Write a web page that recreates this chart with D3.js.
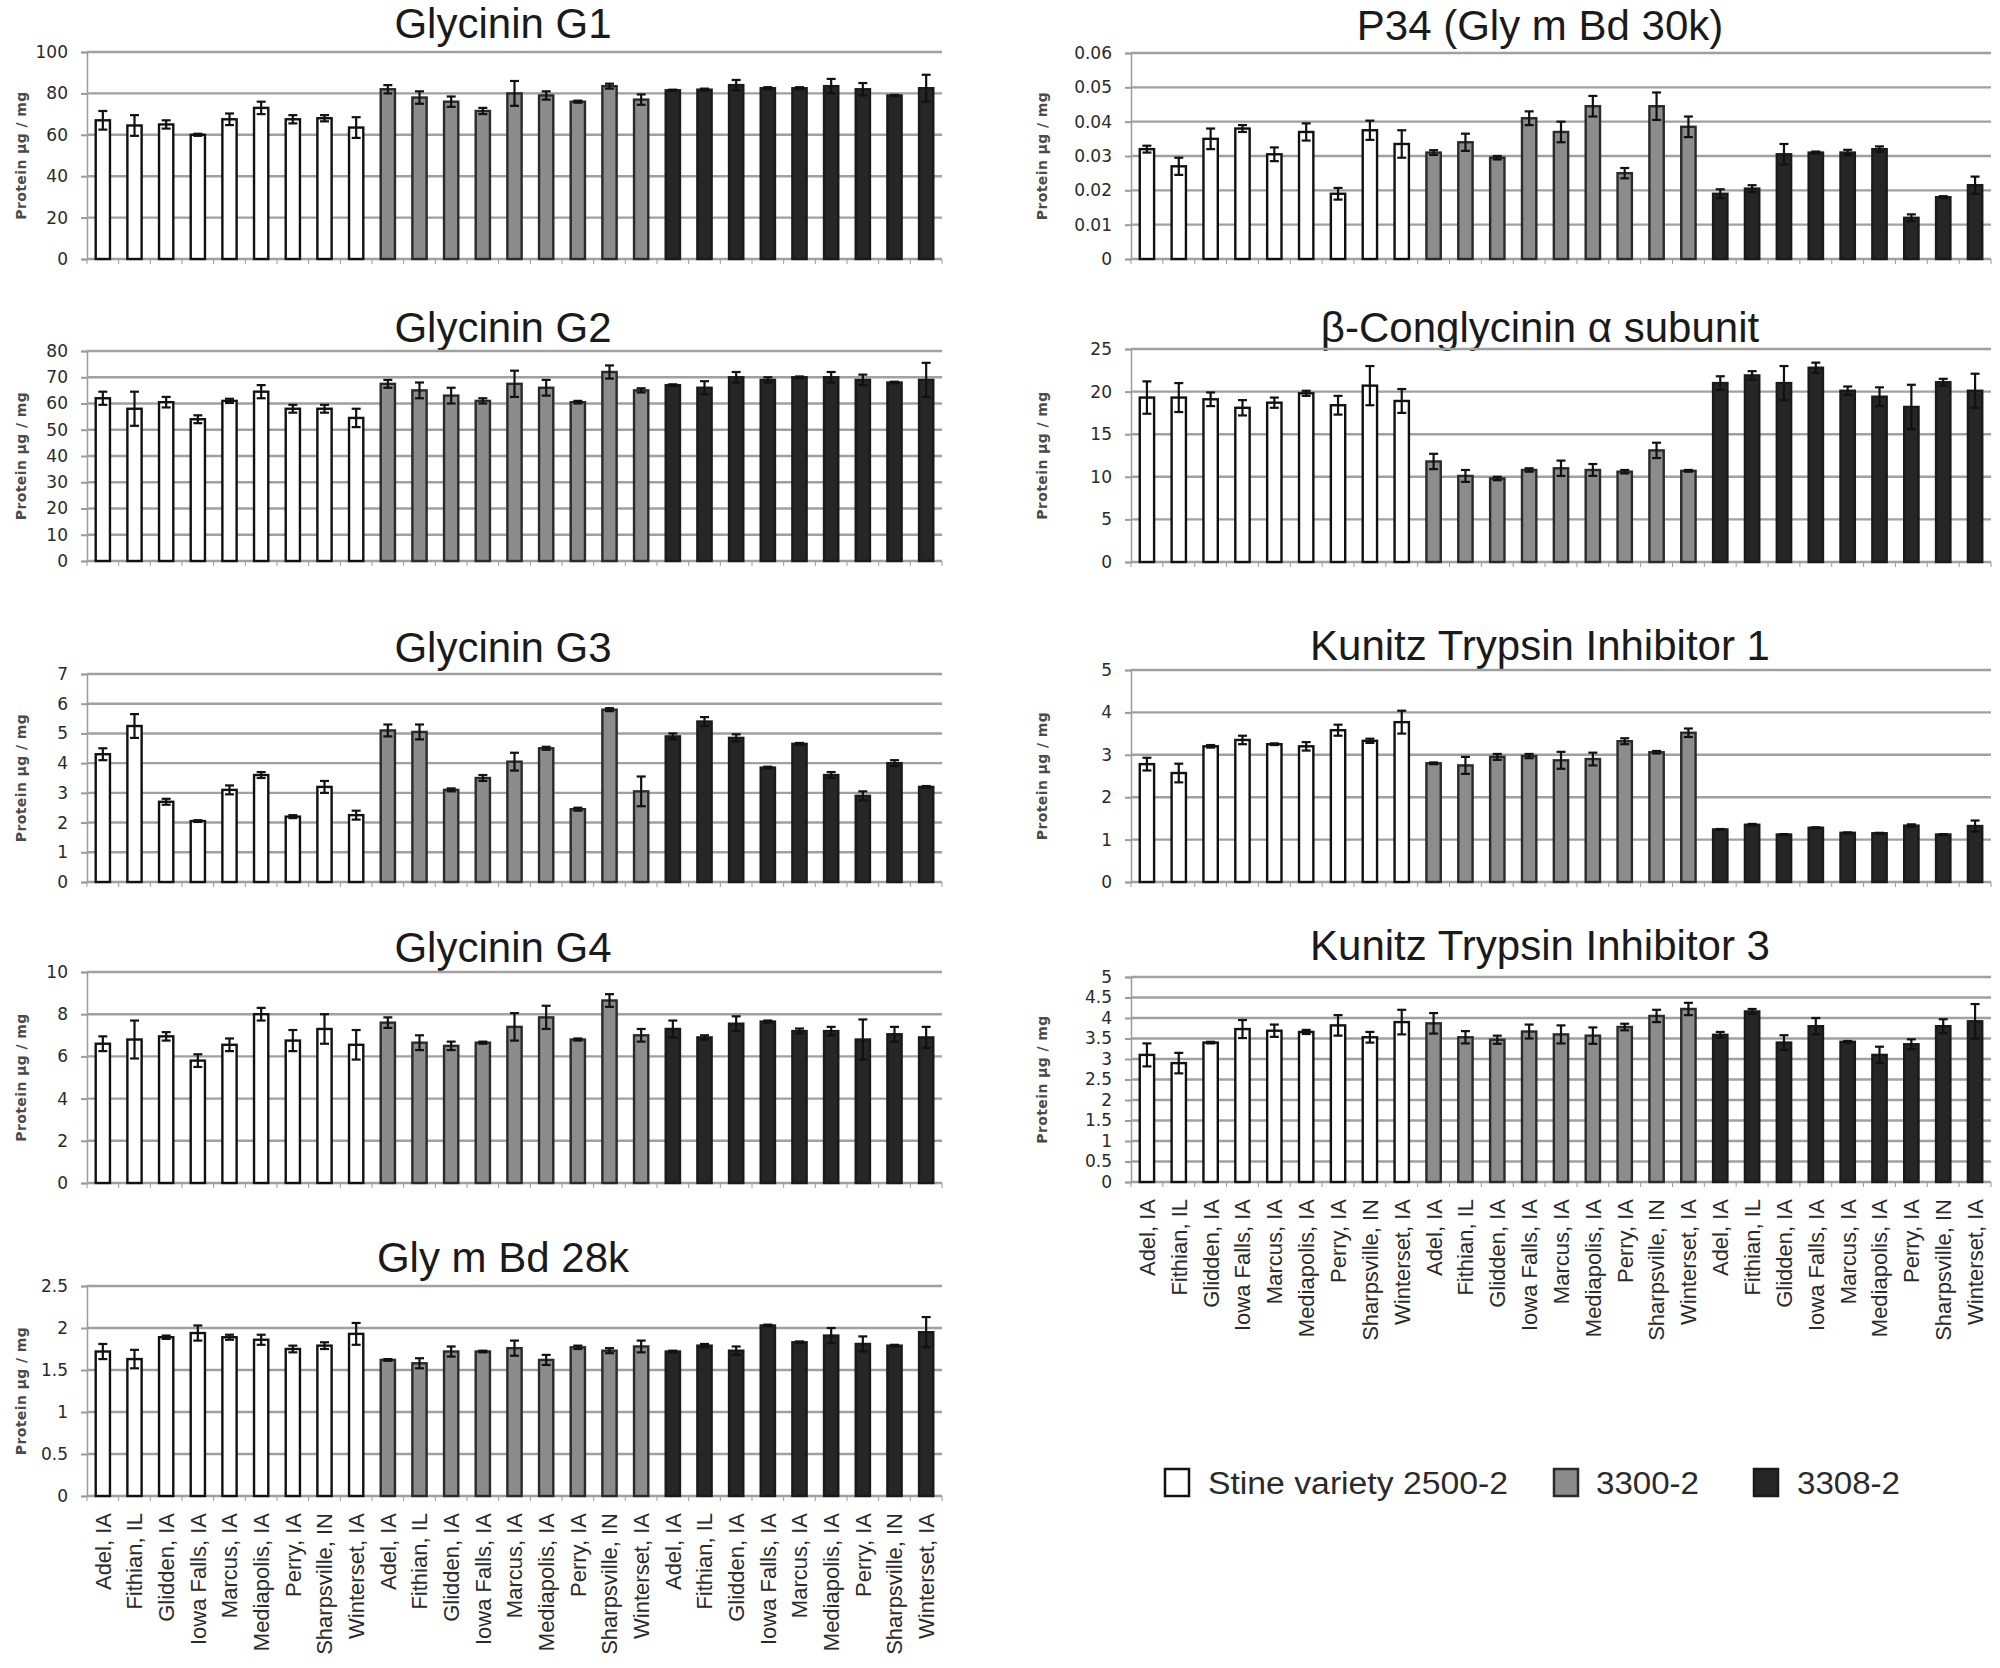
<!DOCTYPE html>
<html>
<head>
<meta charset="utf-8">
<script src="https://cdn.jsdelivr.net/npm/d3@7"></script>
<style>
  html, body { margin: 0; padding: 0; background: #fff; }
  svg { display: block; }
</style>
</head>
<body>
<svg id="chart" width="2000" height="1668"></svg>
<script>
// ---------------- DATA ----------------
const locations = ["Adel, IA", "Fithian, IL", "Glidden, IA", "Iowa Falls, IA", "Marcus, IA",
  "Mediapolis, IA", "Perry, IA", "Sharpsville, IN", "Winterset, IA"];
const varieties = ["Stine variety 2500-2", "3300-2", "3308-2"];

// 27 bars: 9 locations for each variety, in the order above
const g1Values = [67, 64.5, 65, 60, 67.5, 73, 67.5, 68, 63.5,  82, 78, 76, 71.5, 80, 79, 76, 83.5, 77,  81.5, 81.8, 84, 82.5, 82.5, 83.5, 82, 79, 82.5];
const g1Errors = [4.5, 5, 2, 0.5, 2.8, 3, 2, 1.5, 5,  2, 3, 2.5, 1.5, 6, 2, 0.5, 1.2, 2.5,  0.3, 0.5, 2.5, 0.5, 0.5, 3.5, 3, 0.3, 6.5];

const g2Values = [62, 58, 60.5, 54, 61, 64.5, 58, 58, 54.5,  67.5, 65, 63, 61, 67.5, 66, 60.5, 72, 65,  67, 66, 70, 69, 70, 70, 69, 68, 69];
const g2Errors = [2.5, 6.5, 2, 1.5, 0.8, 2.5, 1.5, 1.5, 3.5,  1.5, 3, 3, 1, 5, 3, 0.5, 2.5, 0.8,  0.3, 2.5, 2, 1, 0.3, 2, 2, 0.3, 6.5];

const g3Values = [4.3, 5.25, 2.7, 2.05, 3.1, 3.6, 2.2, 3.2, 2.25,  5.1, 5.05, 3.1, 3.5, 4.05, 4.5, 2.45, 5.8, 3.05,  4.9, 5.4, 4.85, 3.85, 4.65, 3.6, 2.9, 4.0, 3.2];
const g3Errors = [0.2, 0.4, 0.1, 0.03, 0.15, 0.1, 0.05, 0.2, 0.15,  0.2, 0.25, 0.05, 0.1, 0.3, 0.05, 0.05, 0.05, 0.5,  0.1, 0.15, 0.12, 0.03, 0.03, 0.1, 0.15, 0.1, 0.03];

const g4Values = [6.6, 6.8, 6.95, 5.8, 6.55, 8.0, 6.75, 7.3, 6.55,  7.6, 6.65, 6.5, 6.65, 7.4, 7.85, 6.8, 8.65, 7.0,  7.3, 6.9, 7.55, 7.65, 7.2, 7.2, 6.8, 7.05, 6.9];
const g4Errors = [0.35, 0.9, 0.2, 0.3, 0.3, 0.3, 0.5, 0.7, 0.7,  0.25, 0.35, 0.2, 0.05, 0.65, 0.55, 0.05, 0.3, 0.3,  0.4, 0.1, 0.35, 0.05, 0.12, 0.2, 0.95, 0.35, 0.5];

const bd28Values = [1.72, 1.63, 1.89, 1.94, 1.89, 1.86, 1.75, 1.79, 1.93,  1.62, 1.58, 1.72, 1.72, 1.76, 1.62, 1.77, 1.73, 1.78,  1.72, 1.79, 1.73, 2.03, 1.83, 1.91, 1.81, 1.79, 1.95];
const bd28Errors = [0.09, 0.11, 0.02, 0.09, 0.03, 0.06, 0.04, 0.04, 0.13,  0.01, 0.06, 0.06, 0.01, 0.09, 0.06, 0.02, 0.03, 0.07,  0.01, 0.02, 0.05, 0.01, 0.01, 0.09, 0.09, 0.01, 0.18];

const p34Values = [0.032, 0.027, 0.035, 0.038, 0.0305, 0.037, 0.019, 0.0375, 0.0335,  0.031, 0.034, 0.0295, 0.041, 0.037, 0.0445, 0.025, 0.0445, 0.0385,  0.019, 0.0205, 0.0305, 0.031, 0.031, 0.032, 0.012, 0.018, 0.0215];
const p34Errors = [0.001, 0.0025, 0.003, 0.001, 0.002, 0.0025, 0.0017, 0.0028, 0.004,  0.0007, 0.0025, 0.0005, 0.002, 0.003, 0.003, 0.0015, 0.004, 0.003,  0.0013, 0.001, 0.003, 0.0003, 0.0008, 0.0008, 0.001, 0.0003, 0.0025];

const bcongValues = [19.3, 19.3, 19.1, 18.1, 18.7, 19.8, 18.4, 20.7, 18.9,  11.8, 10.1, 9.8, 10.8, 11.0, 10.8, 10.6, 13.1, 10.7,  21.0, 21.9, 21.0, 22.8, 20.1, 19.4, 18.2, 21.1, 20.1];
const bcongErrors = [1.9, 1.7, 0.8, 0.9, 0.6, 0.3, 1.1, 2.3, 1.4,  0.9, 0.7, 0.2, 0.2, 0.9, 0.7, 0.2, 0.9, 0.1,  0.8, 0.5, 2.0, 0.6, 0.5, 1.1, 2.6, 0.4, 2.0];

const kti1Values = [2.78, 2.57, 3.2, 3.35, 3.25, 3.2, 3.58, 3.33, 3.77,  2.8, 2.75, 2.95, 2.97, 2.87, 2.9, 3.32, 3.06, 3.52,  1.24, 1.35, 1.12, 1.28, 1.16, 1.15, 1.33, 1.12, 1.32];
const kti1Errors = [0.15, 0.22, 0.03, 0.1, 0.02, 0.1, 0.13, 0.05, 0.27,  0.02, 0.2, 0.07, 0.05, 0.2, 0.15, 0.07, 0.03, 0.1,  0.01, 0.02, 0.01, 0.01, 0.01, 0.01, 0.03, 0.01, 0.13];

const kti3Values = [3.1, 2.9, 3.4, 3.73, 3.69, 3.66, 3.82, 3.53, 3.9,  3.87, 3.53, 3.47, 3.67, 3.6, 3.57, 3.78, 4.05, 4.22,  3.59, 4.16, 3.4, 3.8, 3.42, 3.1, 3.36, 3.8, 3.92];
const kti3Errors = [0.28, 0.25, 0.02, 0.22, 0.15, 0.05, 0.25, 0.13, 0.3,  0.25, 0.15, 0.1, 0.17, 0.22, 0.2, 0.08, 0.15, 0.15,  0.07, 0.06, 0.18, 0.2, 0.02, 0.2, 0.12, 0.17, 0.42];

// tick values per panel
const g1Ticks = [0, 20, 40, 60, 80, 100];
const g2Ticks = [0, 10, 20, 30, 40, 50, 60, 70, 80];
const g3Ticks = [0, 1, 2, 3, 4, 5, 6, 7];
const g4Ticks = [0, 2, 4, 6, 8, 10];
const bd28Ticks = [0, 0.5, 1, 1.5, 2, 2.5];
const p34Ticks = [0, 0.01, 0.02, 0.03, 0.04, 0.05, 0.06];
const bcongTicks = [0, 5, 10, 15, 20, 25];
const kti1Ticks = [0, 1, 2, 3, 4, 5];
const kti3Ticks = [0, 0.5, 1, 1.5, 2, 2.5, 3, 3.5, 4, 4.5, 5];

const yTitle = "Protein µg / mg";

// ---------------- LAYOUT ----------------
const categories = [];
varieties.forEach((v, vi) => locations.forEach((l, li) => categories.push({ id: vi + "-" + li, label: l, variety: vi })));

const panels = [
  { title: "Glycinin G1", values: g1Values, errors: g1Errors, ticks: g1Ticks, col: 0, top: 52, bottom: 259, titleY: 23 },
  { title: "Glycinin G2", values: g2Values, errors: g2Errors, ticks: g2Ticks, col: 0, top: 351, bottom: 561, titleY: 327 },
  { title: "Glycinin G3", values: g3Values, errors: g3Errors, ticks: g3Ticks, col: 0, top: 674, bottom: 882, titleY: 647 },
  { title: "Glycinin G4", values: g4Values, errors: g4Errors, ticks: g4Ticks, col: 0, top: 972, bottom: 1183, titleY: 947 },
  { title: "Gly m Bd 28k", values: bd28Values, errors: bd28Errors, ticks: bd28Ticks, col: 0, top: 1286, bottom: 1496, titleY: 1257, labels: true },
  { title: "P34 (Gly m Bd 30k)", values: p34Values, errors: p34Errors, ticks: p34Ticks, col: 1, top: 53, bottom: 259, titleY: 25 },
  { title: "β-Conglycinin α subunit", values: bcongValues, errors: bcongErrors, ticks: bcongTicks, col: 1, top: 349, bottom: 562, titleY: 327 },
  { title: "Kunitz Trypsin Inhibitor 1", values: kti1Values, errors: kti1Errors, ticks: kti1Ticks, col: 1, top: 670, bottom: 882, titleY: 645 },
  { title: "Kunitz Trypsin Inhibitor 3", values: kti3Values, errors: kti3Errors, ticks: kti3Ticks, col: 1, top: 977, bottom: 1182, titleY: 945, labels: true }
];

const cols = [
  { left: 87, right: 942, titleX: 503, yTitleX: 21 },
  { left: 1131, right: 1991, titleX: 1540, yTitleX: 1042 }
];

const fills = ["#ffffff", "#8c8c8c", "#262626"];
const strokes = ["#111111", "#2a2a2a", "#1a1a1a"];

const svg = d3.select("#chart");

panels.forEach(p => {
  const c = cols[p.col];
  const g = svg.append("g");
  const x = d3.scaleBand().domain(categories.map(d => d.id)).range([c.left, c.right])
    .paddingInner(0.55).paddingOuter(0.275);
  const y = d3.scaleLinear().domain([0, d3.max(p.ticks)]).range([p.bottom, p.top]);

  // title
  g.append("text").attr("x", c.titleX).attr("y", p.titleY).attr("dy", "0.36em")
    .attr("text-anchor", "middle").attr("font-family", "'Liberation Sans', Arial, sans-serif")
    .attr("font-size", 42).attr("fill", "#1a1a1a").text(p.title);

  // y-axis title
  g.append("text")
    .attr("transform", `translate(${c.yTitleX},${(p.top + p.bottom) / 2}) rotate(-90)`)
    .attr("text-anchor", "middle").attr("dy", "0.35em")
    .attr("font-family", "'DejaVu Sans', Verdana, sans-serif").attr("font-size", 14)
    .attr("font-weight", "bold").attr("letter-spacing", 0.4).attr("fill", "#4a4a4a").text(yTitle);

  // gridlines + y axis
  const yAxis = d3.axisLeft(y).tickValues(p.ticks).tickSize(6).tickPadding(13)
    .tickFormat(d => String(+d.toFixed(3)));
  const ya = g.append("g").attr("transform", `translate(${c.left},0)`).call(yAxis);
  ya.select(".domain").attr("stroke", "#9a9a9a").attr("stroke-width", 1.5);
  ya.selectAll(".tick line").attr("stroke", "#9a9a9a").attr("stroke-width", 2);
  ya.selectAll(".tick text").attr("font-family", "'DejaVu Sans', Verdana, sans-serif")
    .attr("font-size", 17).attr("fill", "#2a2a2a");

  g.append("g").selectAll("line").data(p.ticks).join("line")
    .attr("x1", c.left).attr("x2", c.right)
    .attr("y1", d => y(d)).attr("y2", d => y(d))
    .attr("stroke", "#a0a0a0").attr("stroke-width", 2.4);

  // x axis ticks at band boundaries
  const step = x.step();
  g.append("g").selectAll("line").data(d3.range(categories.length + 1)).join("line")
    .attr("x1", i => c.left + i * step).attr("x2", i => c.left + i * step)
    .attr("y1", p.bottom).attr("y2", p.bottom + 5)
    .attr("stroke", "#9a9a9a").attr("stroke-width", 1);

  // bars
  g.append("g").selectAll("rect").data(categories).join("rect")
    .attr("x", d => x(d.id)).attr("width", x.bandwidth())
    .attr("y", (d, i) => y(p.values[i])).attr("height", (d, i) => y(0) - y(p.values[i]))
    .attr("fill", d => fills[d.variety]).attr("stroke", d => strokes[d.variety]).attr("stroke-width", 2.4);

  // error bars
  const eb = g.append("g").attr("stroke", "#111").attr("stroke-width", 2.2).attr("fill", "none");
  categories.forEach((d, i) => {
    const cx = x(d.id) + x.bandwidth() / 2;
    const hi = y(p.values[i] + p.errors[i]);
    const lo = y(p.values[i] - p.errors[i]);
    eb.append("line").attr("x1", cx).attr("x2", cx).attr("y1", hi).attr("y2", lo);
    eb.append("line").attr("x1", cx - 4.5).attr("x2", cx + 4.5).attr("y1", hi).attr("y2", hi);
    eb.append("line").attr("x1", cx - 4.5).attr("x2", cx + 4.5).attr("y1", lo).attr("y2", lo);
  });

  // category labels
  if (p.labels) {
    g.append("g").selectAll("text").data(categories).join("text")
      .attr("transform", d => `translate(${x(d.id) + x.bandwidth() / 2},${p.bottom + 17}) rotate(-90)`)
      .attr("text-anchor", "end").attr("dy", "0.36em")
      .attr("font-family", "'Liberation Sans', Arial, sans-serif").attr("font-size", 22)
      .attr("fill", "#2a2a2a").text(d => d.label);
  }
});

// legend
const legendItems = [
  { x: 1165, textX: 1208, w: 300 },
  { x: 1554, textX: 1596, w: 103 },
  { x: 1754, textX: 1797, w: 103 }
];
const lg = svg.append("g");
varieties.forEach((v, i) => {
  lg.append("rect").attr("x", legendItems[i].x).attr("y", 1469).attr("width", 24).attr("height", 27)
    .attr("fill", fills[i]).attr("stroke", strokes[i]).attr("stroke-width", 2.5);
  lg.append("text").attr("x", legendItems[i].textX).attr("y", 1483).attr("dy", "0.36em")
    .attr("font-family", "'Liberation Sans', Arial, sans-serif").attr("font-size", 31)
    .attr("textLength", legendItems[i].w).attr("lengthAdjust", "spacingAndGlyphs")
    .attr("fill", "#2a2a2a").text(v);
});
</script>
</body>
</html>
